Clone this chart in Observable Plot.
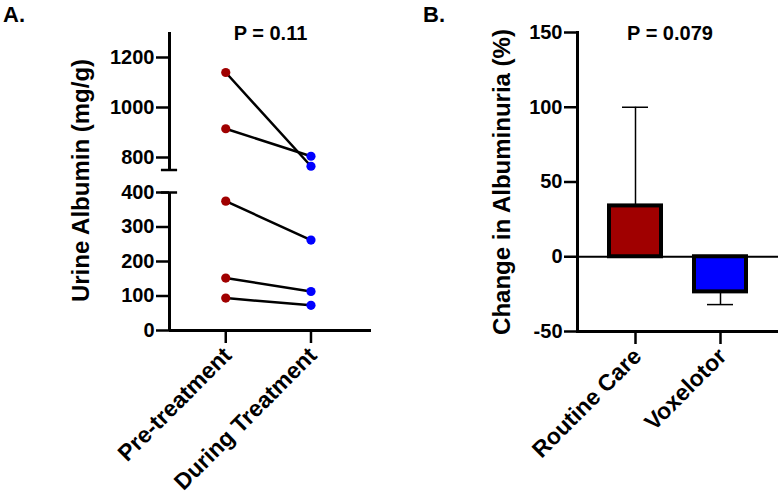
<!DOCTYPE html>
<html><head><meta charset="utf-8">
<script src="https://cdn.jsdelivr.net/npm/d3@7"></script>
<script src="https://cdn.jsdelivr.net/npm/@observablehq/plot@0.6"></script>
<style>
html,body{margin:0;padding:0;background:#fff;}
#wrap{position:relative;width:783px;height:497px;overflow:hidden;font-family:"Liberation Sans",Arial,sans-serif;}
.panel{position:absolute;top:0;}
.tag{position:absolute;font-weight:bold;font-size:22px;line-height:1;}
</style></head><body>
<div id="wrap">
  <div class="tag" style="left:3px;top:4px">A.</div>
  <div class="tag" style="left:423px;top:4px">B.</div>
</div>
<script>
// ---------- Panel A data ----------
const timepoints = ["Pre-treatment", "During Treatment"];
const timepointColors = ["#a00000", "#0000ff"];
const preTreatment = [1140, 915, 375, 152, 94];
const duringTreatment = [765, 805, 262, 113, 73];
const albuminTicks = [0, 100, 200, 300, 400, 800, 1000, 1200];
const albuminBreak = [400, 750];
const albuminLabel = "Urine Albumin (mg/g)";
const pValueA = "P = 0.11";

// ---------- Panel B data ----------
const groupsB = ["Routine Care", "Voxelotor"];
const groupColors = ["#a00000", "#0000ff"];
const changeMean = [34, -23.5];
const changeErrorEnd = [100, -32];
const changeTicks = [-50, 0, 50, 100, 150];
const changeLabel = "Change in Albuminuria (%)";
const pValueB = "P = 0.079";

const baseStyle = {
  fontFamily: '"Liberation Sans", Arial, sans-serif',
  fontWeight: "bold",
  fontSize: "20px",
  color: "black",
  background: "transparent",
  overflow: "visible"
};

// rows for panel A
const rowsA = [];
preTreatment.forEach((v, i) => {
  rowsA.push({subject: i, t: 0, value: v, color: timepointColors[0]});
  rowsA.push({subject: i, t: 1, value: duringTreatment[i], color: timepointColors[1]});
});
const xDomA = [-0.66, 1.71];

const plotA = Plot.plot({
  width: 390, height: 497,
  marginLeft: 169, marginRight: 19, marginTop: 30, marginBottom: 167,
  style: baseStyle,
  x: {type: "linear", domain: xDomA},
  y: {type: "linear", domain: [0, 400, 750, 1300], range: [330, 192, 169.5, 32]},
  marks: [
    Plot.ruleX([{y1: 0, y2: albuminBreak[0]}, {y1: albuminBreak[1], y2: 1300}],
      {x: xDomA[0], y1: "y1", y2: "y2", strokeWidth: 3}),
    Plot.ruleY([0], {strokeWidth: 3}),
    Plot.ruleY(albuminBreak, {x1: xDomA[0] - 0.095, x2: xDomA[0] + 0.095, strokeWidth: 2.5}),
    Plot.line(rowsA, {x: "t", y: "value", z: "subject", stroke: "black", strokeWidth: 2.5}),
    Plot.dot(rowsA, {x: "t", y: "value", r: 4.6, fill: "color", stroke: null}),
    Plot.axisY({ticks: albuminTicks, tickFormat: d => String(d), tickSize: 13, tickPadding: 2,
      fontSize: 20, strokeWidth: 2.5, label: null}),
    Plot.axisX({ticks: [0, 1], tickFormat: () => "", tickSize: 13, strokeWidth: 2.5, label: null}),
    Plot.axisX({ticks: [0, 1], tickFormat: i => timepoints[i], tickRotate: -45, tickSize: 0,
      tickPadding: 21, dx: 2, fontSize: 23, label: null}),
    Plot.text([albuminLabel], {frameAnchor: "left", rotate: -90, dx: -88, fontSize: 24,
      textAnchor: "middle", lineAnchor: "middle"}),
    Plot.text([pValueA], {frameAnchor: "top", dy: 3.5, fontSize: 20, lineAnchor: "middle"})
  ]
});
plotA.classList.add("panel");
plotA.style.left = "0px";

// rows for panel B
const rowsB = groupsB.map((g, i) => ({group: g, value: changeMean[i], errEnd: changeErrorEnd[i], color: groupColors[i]}));

const plotB = Plot.plot({
  width: 393, height: 497,
  marginLeft: 187, marginRight: 5, marginTop: 32, marginBottom: 166,
  style: baseStyle,
  x: {type: "band", domain: groupsB, paddingInner: 0.39, paddingOuter: 0.364},
  y: {type: "linear", domain: [-50, 150]},
  marks: [
    Plot.ruleY([0], {strokeWidth: 2}),
    Plot.ruleX(rowsB, {x: "group", y1: "value", y2: "errEnd", strokeWidth: 1.5}),
    Plot.tickY(rowsB, {x: "group", y: "errEnd", strokeWidth: 1.5, insetLeft: 13, insetRight: 13}),
    Plot.barY(rowsB, {x: "group", y: "value", fill: "color", stroke: "black", strokeWidth: 4}),
    Plot.frame({anchor: "left", strokeWidth: 3}),
    Plot.ruleY([-50], {strokeWidth: 3}),
    Plot.axisY({ticks: changeTicks, tickFormat: d => String(d), tickSize: 13, tickPadding: 2,
      fontSize: 20, strokeWidth: 2.5, label: null}),
    Plot.axisX({tickSize: 13, strokeWidth: 2.5, tickFormat: () => "", label: null}),
    Plot.axisX({tickRotate: -45, tickSize: 0, tickPadding: 21, dx: 2, fontSize: 23, label: null}),
    Plot.text([changeLabel], {frameAnchor: "left", rotate: -90, dx: -75, fontSize: 24,
      textAnchor: "middle", lineAnchor: "middle"}),
    Plot.text([pValueB], {frameAnchor: "top", dx: -8, dy: 1.5, fontSize: 20, lineAnchor: "middle"})
  ]
});
plotB.classList.add("panel");
plotB.style.left = "390px";

const wrap = document.getElementById("wrap");
wrap.appendChild(plotA);
wrap.appendChild(plotB);
</script>
</body></html>
